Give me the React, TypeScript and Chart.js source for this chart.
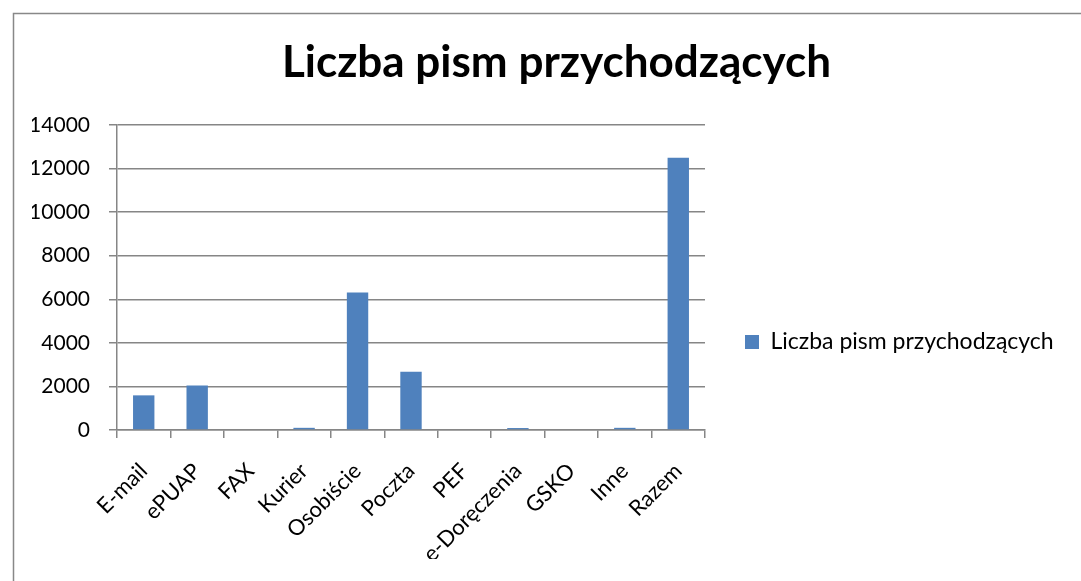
import React, { useEffect, useRef } from "react";
import { Chart, registerables } from "chart.js";

Chart.register(...registerables);

const categories = ["E-mail", "ePUAP", "FAX", "Kurier", "Osobiście", "Poczta", "PEF", "e-Doręczenia", "GSKO", "Inne", "Razem"];
const values = [1590, 2040, 0, 100, 6310, 2670, 0, 90, 0, 100, 12500];
const seriesName = "Liczba pism przychodzących";
const titleText = "Liczba pism przychodzących";
const yMin = 0;
const yMax = 14000;
const yStep = 2000;

const W = 1081;
const H = 581;
const PLOT_LEFT = 117;
const PLOT_RIGHT = 705;
const PLOT_BOTTOM = 430;
const PAD_LEFT = 32;
const PAD_BOTTOM = 22;
const GRID = "#868686";
const FONT = "Lato, 'Open Sans', sans-serif";

const frame = {
  id: "frame",
  beforeDraw(chart: any) {
    const ctx = chart.ctx;
    ctx.save();
    ctx.fillStyle = "#ffffff";
    ctx.fillRect(0, 0, W, H);
    ctx.strokeStyle = "#888888";
    ctx.lineWidth = 1.5;
    ctx.strokeRect(13.5, 13.5, W + 20, H + 20);
    ctx.restore();
  },
};

const legendWidth = {
  id: "legendWidth",
  beforeLayout(chart: any) {
    const lg = chart.legend;
    if (lg && !lg.__patched) {
      const orig = lg.fit.bind(lg);
      lg.fit = function () {
        orig();
        this.width = W - PLOT_RIGHT;
      };
      lg.__patched = true;
    }
  },
};

export default function App() {
  const ref = useRef<HTMLCanvasElement | null>(null);
  useEffect(() => {
    if (!ref.current) return;
    const chart = new Chart(ref.current, {
      type: "bar",
      data: {
        labels: categories,
        datasets: [
          {
            label: seriesName,
            data: values,
            backgroundColor: "#4f81bd",
            borderWidth: 0,
            barPercentage: 0.4,
            categoryPercentage: 1,
          },
        ],
      },
      options: {
        responsive: false,
        animation: false,
        layout: { padding: { left: PAD_LEFT, right: 0, top: 0, bottom: PAD_BOTTOM } },
        plugins: {
          title: {
            display: true,
            text: titleText,
            color: "#000000",
            font: { family: FONT, size: 44, weight: "bold", lineHeight: 1.2 },
            padding: { top: 36.4, bottom: 35.8 },
          },
          legend: {
            display: true,
            position: "right",
            align: "start",
            title: {
              display: true,
              text: " ",
              font: { family: FONT, size: 10, lineHeight: 1 },
              padding: { top: 280.5, bottom: 0 },
            },
            labels: {
              color: "#000000",
              font: { family: FONT, size: 23 },
              boxWidth: 14,
              boxHeight: 14,
              padding: 40,
            },
          },
          tooltip: { enabled: false },
        },
        scales: {
          x: {
            grid: { display: true, drawOnChartArea: false, color: GRID, lineWidth: 1.5, tickLength: 8, offset: true },
            border: { display: true, color: GRID, width: 1.5 },
            ticks: {
              color: "#000000",
              font: { family: FONT, size: 22 },
              maxRotation: 45,
              minRotation: 45,
              autoSkip: false,
              padding: 20,
            },
            afterFit(scale: any) {
              scale.height = H - PAD_BOTTOM - PLOT_BOTTOM;
            },
          },
          y: {
            min: yMin,
            max: yMax,
            grid: { color: GRID, lineWidth: 1.5, tickLength: 8 },
            border: { display: true, color: GRID, width: 1.5 },
            ticks: {
              stepSize: yStep,
              color: "#000000",
              font: { family: FONT, size: 21 },
              padding: 19,
              callback: (v: any) => String(v),
            },
            afterFit(scale: any) {
              scale.width = PLOT_LEFT - PAD_LEFT;
            },
          },
        },
      },
      plugins: [frame, legendWidth],
    });
    return () => chart.destroy();
  }, []);
  return (
    <div style={{ position: "absolute", left: 0, top: 0, width: W, height: H }}>
      <canvas ref={ref} width={W} height={H} style={{ display: "block", width: W, height: H }} />
    </div>
  );
}
